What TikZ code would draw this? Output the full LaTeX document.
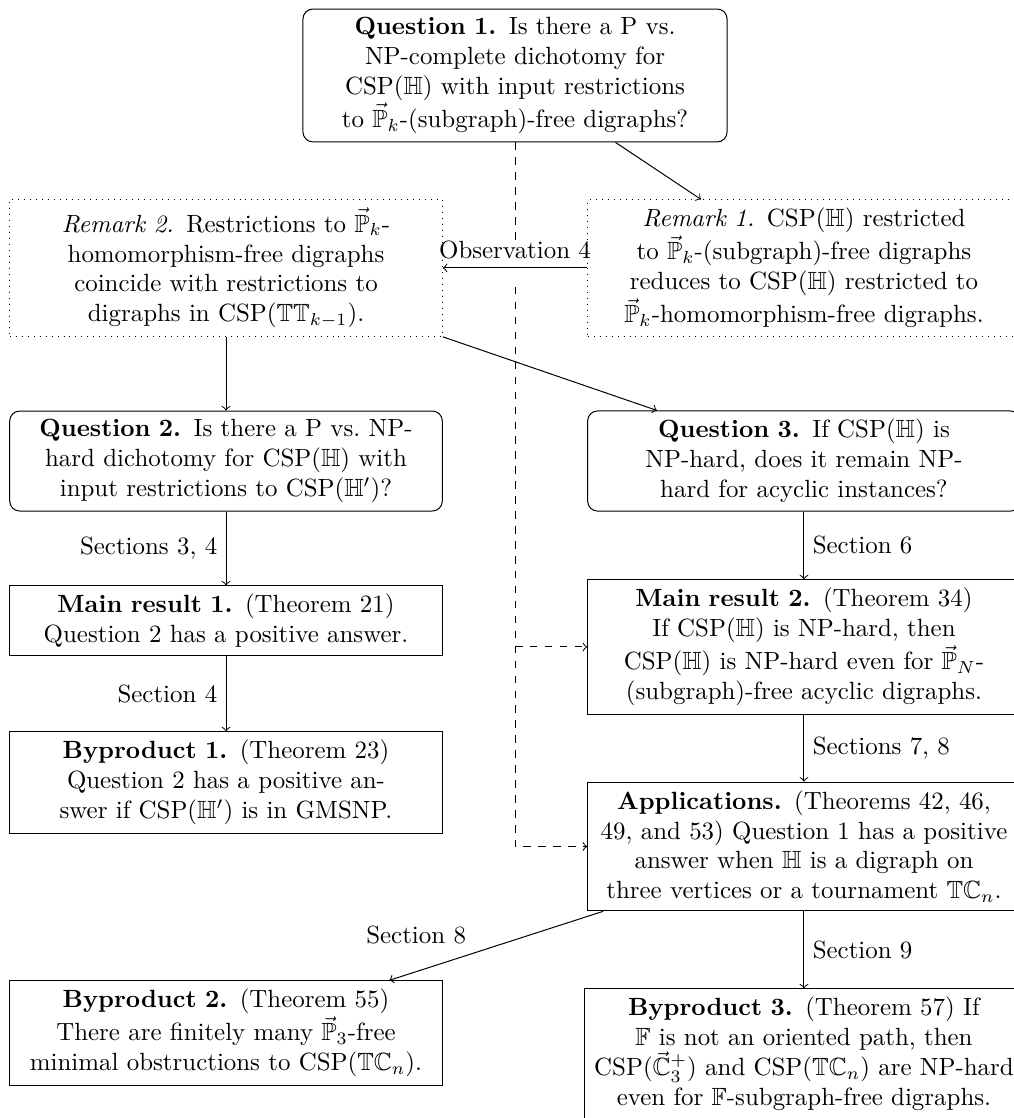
\documentclass[tikz,border=0pt]{standalone}
\usepackage{amsmath,amssymb}

\begin{document}
\begin{tikzpicture}[
    question/.style={draw, rounded corners, align=center, text width=5.87cm},
    result/.style={draw, align=center, text width=5.87cm},
    remark/.style={draw, dotted, align=center, text width=5.87cm}
  ]
    \useasboundingbox (0,0) rectangle (14.294,-15.775); % frame
    \node[question, text width=5.75cm] (q1) at (7.267,-1.065)
        {\textbf{Question 1.}\enspace Is there a P vs.\\ NP-complete dichotomy for\\ CSP($\mathbb{H}$) with input restrictions\\ to $\vec{\mathbb{P}}_k$-(subgraph)-free digraphs?};
    \node[remark] (rem2) at (3.189,-3.781)
        {\textit{Remark 2.} Restrictions to $\vec{\mathbb{P}}_k$-\\ homomorphism-free digraphs\\ coincide with restrictions to\\ digraphs in CSP($\mathbb{TT}_{k-1}$).};
    \node[remark] (rem1) at (11.344,-3.781)
        {\textit{Remark 1.} CSP($\mathbb{H}$) restricted\\ to $\vec{\mathbb{P}}_k$-(subgraph)-free digraphs\\ reduces to CSP($\mathbb{H}$) restricted to\\ $\vec{\mathbb{P}}_k$-homomorphism-free digraphs.};
    \node[question] (q2) at (3.189,-6.505)
        {\textbf{Question 2.}\enspace Is there a P vs.\ NP-\\ hard dichotomy for CSP($\mathbb{H}$) with\\ input restrictions to CSP($\mathbb{H}'$)?};
    \node[question] (q3) at (11.344,-6.505)
        {\textbf{Question 3.}\enspace If CSP($\mathbb{H}$) is\\ NP-hard, does it remain NP-\\ hard for acyclic instances?};
    \node[result] (mr1) at (3.189,-8.762)
        {\textbf{Main result 1.}\enspace (Theorem 21)\\ Question 2 has a positive answer.};
    \node[result] (mr2) at (11.344,-9.129)
        {\textbf{Main result 2.}\enspace (Theorem 34)\\ If CSP($\mathbb{H}$) is NP-hard, then\\ CSP($\mathbb{H}$) is NP-hard even for $\vec{\mathbb{P}}_N$-\\ (subgraph)-free acyclic digraphs.};
    \node[result] (bp1) at (3.189,-11.041)
        {\textbf{Byproduct 1.}\enspace (Theorem 23)\\ Question 2 has a positive an-\\ swer if CSP($\mathbb{H}'$) is in GMSNP.};
    \node[result] (app) at (11.344,-11.944)
        {\textbf{Applications.}\enspace (Theorems 42, 46,\\ 49, and 53) Question 1 has a positive\\ answer when $\mathbb{H}$ is a digraph on\\ three vertices or a tournament $\mathbb{TC}_n$.};
    \node[result] (bp2) at (3.189,-14.576)
        {\textbf{Byproduct 2.}\enspace (Theorem 55)\\ There are finitely many $\vec{\mathbb{P}}_3$-free\\ minimal obstructions to CSP($\mathbb{TC}_n$).};
    \node[result, text width=5.95cm] (bp3) at (11.344,-14.872)
        {\textbf{Byproduct 3.}\enspace (Theorem 57) If\\ $\mathbb{F}$ is not an oriented path, then\\ CSP($\vec{\mathbb{C}}_3^+$) and CSP($\mathbb{TC}_n$) are NP-hard\\ even for $\mathbb{F}$-subgraph-free digraphs.};

    % dashed line from Question 1
    \coordinate (mid) at (7.267,0);
    \coordinate (gapTop) at (7.267,-3.386);
    \coordinate (gapBot) at (7.267,-4.05);
    \draw[dashed] (q1.south -| mid) -- (gapTop);
    \draw[dashed, ->] (gapBot) -- (app.west -| mid) -- (app.west);
    \draw[dashed, ->] (mr2.west -| mid) -- (mr2.west);

    \draw[->] (q1) -- (rem1);
    \draw[->] (rem1) -- node[above] {Observation 4} (rem2);
    \draw[->] (rem2) -- (q2);
    \draw[->] (rem2.south east) -- (q3);
    \draw[->] (q2) -- node[left] {Sections 3, 4} (mr1);
    \draw[->] (mr1) -- node[left] {Section 4} (bp1);
    \draw[->] (q3) -- node[right] {Section 6} (mr2);
    \draw[->] (mr2) -- node[right] {Sections 7, 8} (app);
    \draw[->] (app) -- node[pos=0.6, above left] {Section 8} (bp2);
    \draw[->] (app) -- node[right] {Section 9} (bp3);
\end{tikzpicture}
\end{document}
